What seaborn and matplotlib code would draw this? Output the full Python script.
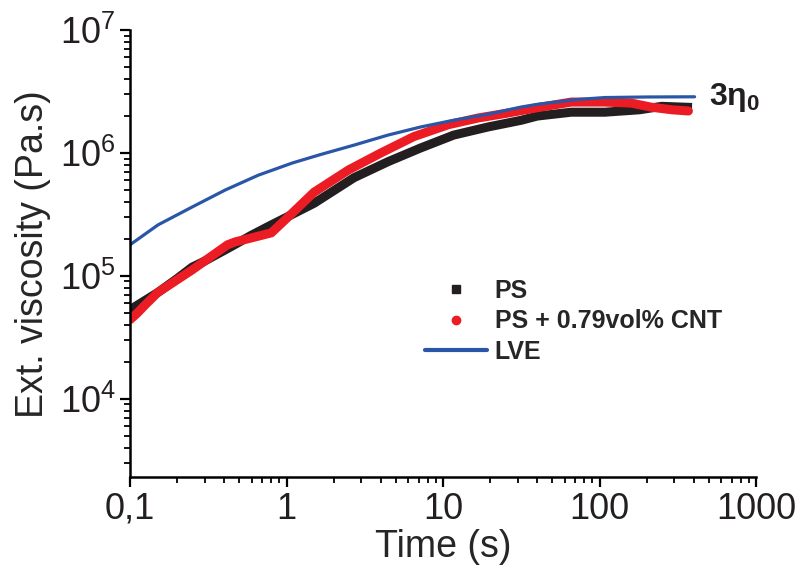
import pandas as pd
import matplotlib
matplotlib.use("Agg")
import matplotlib.pyplot as plt
from matplotlib.lines import Line2D
from matplotlib.ticker import LogLocator, NullFormatter
import seaborn as sns

# values
ps_time = [0.1, 0.15, 0.2, 0.25, 0.3, 0.45, 0.6, 0.8, 1.0, 1.5, 2.7, 4.45, 7.2,
           11.7, 19.4, 31.7, 40, 66, 108, 180, 250, 390]
ps_visc = [5.3e4, 7.3e4, 9.5e4, 1.18e5, 1.32e5, 1.75e5, 2.15e5, 2.6e5, 3.0e5,
           3.9e5, 6.3e5, 8.5e5, 1.1e6, 1.4e6, 1.63e6, 1.85e6, 2.0e6, 2.15e6,
           2.15e6, 2.25e6, 2.4e6, 2.35e6]

cnt_time = [0.1, 0.11, 0.125, 0.15, 0.19, 0.25, 0.32, 0.42, 0.47, 0.6, 0.8,
            1.09, 1.5, 2.5, 4.0, 6.5, 10.8, 16.8, 25, 40, 66, 108, 160, 215,
            290, 370]
cnt_visc = [4.4e4, 4.9e4, 5.8e4, 7.3e4, 8.9e4, 1.12e5, 1.4e5, 1.79e5, 1.89e5,
            2.04e5, 2.24e5, 3.25e5, 4.8e5, 7.3e5, 1.0e6, 1.36e6, 1.7e6, 1.93e6,
            2.1e6, 2.34e6, 2.6e6, 2.6e6, 2.55e6, 2.36e6, 2.25e6, 2.2e6]

lve_time = [0.1, 0.151, 0.25, 0.406, 0.66, 1.09, 1.64, 2.7, 4.45, 7.2, 11.7,
            19.4, 31.7, 40.7, 70, 108, 200, 405]
lve_visc = [1.79e5, 2.6e5, 3.64e5, 5.0e5, 6.6e5, 8.3e5, 9.7e5, 1.16e6, 1.4e6,
            1.63e6, 1.85e6, 2.07e6, 2.37e6, 2.5e6, 2.72e6, 2.83e6, 2.86e6, 2.87e6]

x_ticks = [0.1, 1, 10, 100, 1000]
x_labels = ["0,1", "1", "10", "100", "1000"]

sns.set_style("ticks")
plt.rcParams["font.family"] = ["Liberation Sans", "DejaVu Sans"]
plt.rcParams["mathtext.fontset"] = "custom"
plt.rcParams["mathtext.rm"] = "Liberation Sans"
plt.rcParams["mathtext.it"] = "Liberation Sans:italic"
plt.rcParams["mathtext.bf"] = "Liberation Sans:bold"
plt.rcParams["mathtext.default"] = "regular"

black = "#231f20"
red = "#ec1c24"
blue = "#2a56a8"

fig = plt.figure(figsize=(8, 5.7), dpi=100)
ax = fig.add_axes([0.1625, 0.163, 0.7825, 0.784])

ps = pd.DataFrame({"t": ps_time, "eta": ps_visc})
cnt = pd.DataFrame({"t": cnt_time, "eta": cnt_visc})
lve = pd.DataFrame({"t": lve_time, "eta": lve_visc})

sns.lineplot(data=ps, x="t", y="eta", color=black, linewidth=6.5, ax=ax,
             estimator=None, sort=False, solid_capstyle="butt", solid_joinstyle="round")
sns.lineplot(data=cnt, x="t", y="eta", color=red, linewidth=6.5, ax=ax,
             estimator=None, sort=False, solid_capstyle="round", solid_joinstyle="round")
sns.lineplot(data=lve, x="t", y="eta", color=blue, linewidth=2.3, ax=ax,
             estimator=None, sort=False, solid_joinstyle="round")

ax.set_xscale("log")
ax.set_yscale("log")
ax.set_xlim(0.1, 1000)
ax.set_ylim(2.3e3, 1e7)
ax.set_xticks(x_ticks)
ax.set_xticklabels(x_labels)
ax.xaxis.set_minor_locator(LogLocator(base=10, subs=range(2, 10), numticks=20))
ax.yaxis.set_minor_locator(LogLocator(base=10, subs=range(2, 10), numticks=20))
ax.xaxis.set_minor_formatter(NullFormatter())
ax.yaxis.set_minor_formatter(NullFormatter())

ax.set_xlabel("Time (s)", fontsize=27, labelpad=2)
ax.set_ylabel("Ext. viscosity (Pa.s)", fontsize=27, labelpad=6)
ax.spines["top"].set_visible(False)
ax.spines["right"].set_visible(False)
for s in ["left", "bottom"]:
    ax.spines[s].set_linewidth(1.8)
    ax.spines[s].set_color("black")
ax.tick_params(which="both", bottom=True, left=True, top=False, right=False,
               direction="out", color="black")
ax.tick_params(which="major", length=7, width=1.6, labelsize=26,
               labelcolor="#231f20")
ax.tick_params(which="minor", length=4.5, width=1.3)

ax.text(500, 2.85e6, "3η$_0$", fontsize=23, fontweight="bold", color=black,
        ha="left", va="center")

handles = [
    Line2D([], [], marker="s", linestyle="none", color=black, markersize=6),
    Line2D([], [], marker="o", linestyle="none", color=red, markersize=6),
    Line2D([], [], color=blue, linewidth=3),
]
labels = ["PS", "PS + 0.79vol% CNT", "LVE"]
leg = ax.legend(handles, labels, loc="upper left", bbox_to_anchor=(0.471, 0.443),
                frameon=False, borderpad=0, borderaxespad=0, handlelength=2.5,
                handletextpad=0.3, labelspacing=0.25,
                prop={"weight": "bold", "size": 18})

fig.savefig("out.png", dpi=100)
